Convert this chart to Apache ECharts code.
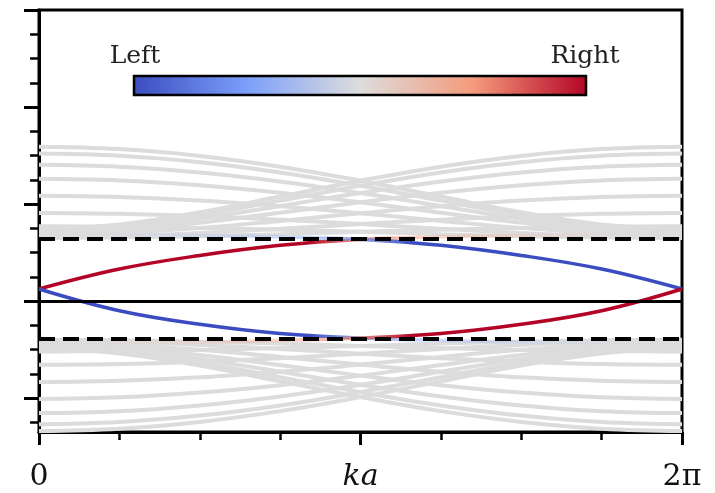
<!DOCTYPE html>
<html>
<head>
<meta charset="utf-8">
<script src="https://cdn.jsdelivr.net/npm/echarts@6/dist/echarts.min.js"></script>
<style>html,body{margin:0;padding:0;background:#fff}#c{width:715px;height:493px}</style>
</head>
<body>
<div id="c"></div>
<script>
// k in units of pi
const kValues = [0, 0.25, 0.5, 0.75, 1, 1.25, 1.5, 1.75, 2];
const xTickLabels = ['0', 'ka', '2π'];
const yMajorTicks = [-1, 0, 1, 2, 3];
const yMinorTicks = [-1.25, -0.75, -0.5, -0.25, 0.25, 0.5, 0.75, 1.25, 1.5, 1.75, 2.25, 2.5, 2.75];
const gapTop = 0.64;
const gapBottom = -0.39;
const legendLabels = ['Left', 'Right'];

// upper bulk bands falling from k=0 toward 2pi
const upperFalling = [
  [1.590, 1.566, 1.496, 1.385, 1.240, 1.077, 0.915, 0.790, 0.740],
  [1.520, 1.497, 1.431, 1.326, 1.189, 1.035, 0.884, 0.766, 0.720],
  [1.405, 1.385, 1.326, 1.233, 1.113, 0.979, 0.848, 0.748, 0.710],
  [1.260, 1.243, 1.194, 1.117, 1.019, 0.910, 0.807, 0.729, 0.700],
  [1.085, 1.072, 1.036, 0.978, 0.905, 0.826, 0.753, 0.700, 0.680],
  [0.907, 0.899, 0.875, 0.839, 0.793, 0.745, 0.702, 0.671, 0.660],
  [0.770, 0.766, 0.754, 0.735, 0.713, 0.689, 0.669, 0.655, 0.650]
];
// upper bulk bands rising toward 2pi
const upperRising = [
  [0.740, 0.790, 0.915, 1.077, 1.240, 1.385, 1.496, 1.566, 1.590],
  [0.720, 0.766, 0.884, 1.035, 1.189, 1.326, 1.431, 1.497, 1.520],
  [0.710, 0.748, 0.848, 0.979, 1.113, 1.233, 1.326, 1.385, 1.405],
  [0.700, 0.729, 0.807, 0.910, 1.019, 1.117, 1.194, 1.243, 1.260],
  [0.680, 0.700, 0.753, 0.826, 0.905, 0.978, 1.036, 1.072, 1.085],
  [0.660, 0.671, 0.702, 0.745, 0.793, 0.839, 0.875, 0.899, 0.907],
  [0.650, 0.655, 0.669, 0.689, 0.713, 0.735, 0.754, 0.766, 0.770]
];
// lower bulk bands rising toward 2pi
const lowerRising = [
  [-1.340, -1.316, -1.246, -1.135, -0.990, -0.827, -0.665, -0.540, -0.490],
  [-1.270, -1.247, -1.181, -1.076, -0.939, -0.785, -0.634, -0.516, -0.470],
  [-1.155, -1.135, -1.076, -0.983, -0.863, -0.729, -0.598, -0.498, -0.460],
  [-1.010, -0.993, -0.944, -0.867, -0.769, -0.660, -0.557, -0.479, -0.450],
  [-0.835, -0.822, -0.786, -0.728, -0.655, -0.576, -0.503, -0.450, -0.430],
  [-0.657, -0.649, -0.625, -0.589, -0.543, -0.495, -0.452, -0.421, -0.410],
  [-0.520, -0.516, -0.504, -0.485, -0.463, -0.439, -0.419, -0.405, -0.400]
];
// lower bulk bands falling toward 2pi
const lowerFalling = [
  [-0.490, -0.540, -0.665, -0.827, -0.990, -1.135, -1.246, -1.316, -1.340],
  [-0.470, -0.516, -0.634, -0.785, -0.939, -1.076, -1.181, -1.247, -1.270],
  [-0.460, -0.498, -0.598, -0.729, -0.863, -0.983, -1.076, -1.135, -1.155],
  [-0.450, -0.479, -0.557, -0.660, -0.769, -0.867, -0.944, -0.993, -1.010],
  [-0.430, -0.450, -0.503, -0.576, -0.655, -0.728, -0.786, -0.822, -0.835],
  [-0.410, -0.421, -0.452, -0.495, -0.543, -0.589, -0.625, -0.649, -0.657],
  [-0.400, -0.405, -0.419, -0.439, -0.463, -0.485, -0.504, -0.516, -0.520]
];
// edge states
const edgeRedUpper  = [0.124, 0.330, 0.470, 0.575, 0.635, 0.660, 0.675, 0.685, 0.690];
const edgeBlueUpper = [0.690, 0.685, 0.675, 0.660, 0.635, 0.575, 0.470, 0.330, 0.124];
const edgeBlueLower = [0.124, -0.100, -0.240, -0.335, -0.380, -0.405, -0.420, -0.430, -0.435];
const edgeRedLower  = [-0.435, -0.430, -0.420, -0.405, -0.380, -0.335, -0.240, -0.100, 0.124];

const RED = '#b40426', BLUE = '#3b4cc0';
const pts = arr => arr.map((v, i) => [kValues[i], v]);
const grad = stops => ({type: 'linear', x: 0, y: 0, x2: 1, y2: 0,
  colorStops: stops.map(s => ({offset: s[0], color: s[1]}))});

const series = [];
[upperFalling, upperRising, lowerRising, lowerFalling].forEach(group => {
  group.forEach(arr => series.push({
    type: 'line', data: pts(arr), smooth: 0.4, showSymbol: false, silent: true, z: 1,
    lineStyle: {color: '#dcdcdc', width: 4}
  }));
});
const redFadeRight = [[0, RED], [0.42, RED], [0.5, 'rgba(225,110,95,0.75)'], [0.6, 'rgba(244,165,135,0.5)'], [0.8, 'rgba(240,200,185,0.3)'], [1, 'rgba(220,220,220,0)']];
const redFadeLeft = [[0, 'rgba(220,220,220,0)'], [0.2, 'rgba(240,200,185,0.3)'], [0.4, 'rgba(244,165,135,0.5)'], [0.5, 'rgba(225,110,95,0.75)'], [0.58, RED], [1, RED]];
const blueFadeRight = [[0, BLUE], [0.42, BLUE], [0.5, 'rgba(110,140,230,0.75)'], [0.6, 'rgba(150,180,245,0.5)'], [0.8, 'rgba(190,205,240,0.3)'], [1, 'rgba(220,220,220,0)']];
const blueFadeLeft = [[0, 'rgba(220,220,220,0)'], [0.2, 'rgba(190,205,240,0.3)'], [0.4, 'rgba(150,180,245,0.5)'], [0.5, 'rgba(110,140,230,0.75)'], [0.58, BLUE], [1, BLUE]];
[[edgeRedUpper, redFadeRight], [edgeBlueUpper, blueFadeLeft], [edgeBlueLower, blueFadeRight], [edgeRedLower, redFadeLeft]].forEach(([arr, st]) => {
  series.push({type: 'line', data: pts(arr), smooth: 0.4, showSymbol: false, silent: true, z: 3,
    lineStyle: {color: grad(st), width: 3.5}});
});
series.push({
  type: 'line', data: [], z: 5, silent: true,
  markLine: {
    silent: true, symbol: 'none', label: {show: false},
    data: [
      {yAxis: gapTop, lineStyle: {type: [16, 8], color: '#000', width: 4}},
      {yAxis: gapBottom, lineStyle: {type: [16, 8], color: '#000', width: 4}},
      {yAxis: 0, lineStyle: {type: 'solid', color: '#000', width: 3}}
    ]
  }
});

const chart = echarts.init(document.getElementById('c'), null, {renderer: 'canvas'});
const serif = 'DejaVu Serif';
chart.setOption({
  animation: false,
  backgroundColor: '#fff',
  grid: {left: 39, right: 33, top: 10, bottom: 61, show: true, borderColor: '#000', borderWidth: 3, backgroundColor: 'transparent'},
  xAxis: {
    type: 'value', min: 0, max: 2, interval: 1,
    axisLine: {onZero: false, lineStyle: {color: '#000', width: 3}},
    axisTick: {length: 13, lineStyle: {color: '#000', width: 3}},
    minorTick: {show: true, splitNumber: 4, length: 8, lineStyle: {color: '#000', width: 2.5}},
    splitLine: {show: false},
    axisLabel: {
      margin: 30, color: '#111', fontFamily: serif, fontSize: 30,
      formatter: v => v === 0 ? xTickLabels[0] : (v === 1 ? '{i|' + xTickLabels[1] + '}' : xTickLabels[2]),
      rich: {i: {fontStyle: 'italic', fontFamily: serif, fontSize: 30, color: '#111'}}
    }
  },
  yAxis: [
    {
      type: 'value', min: -1.35, max: 3,
      axisLine: {show: true, onZero: false, lineStyle: {color: '#000', width: 3}},
      axisTick: {show: true, length: 15, customValues: yMajorTicks, lineStyle: {color: '#000', width: 3}},
      axisLabel: {show: false}, splitLine: {show: false}
    },
    {
      type: 'value', min: -1.35, max: 3, position: 'left',
      axisLine: {show: false, onZero: false},
      axisTick: {show: true, length: 9, customValues: yMinorTicks, lineStyle: {color: '#000', width: 2.5}},
      axisLabel: {show: false}, splitLine: {show: false}
    }
  ],
  series: series,
  graphic: [
    {type: 'rect', shape: {x: 134, y: 76, width: 452, height: 19}, z: 10,
      style: {fill: new echarts.graphic.LinearGradient(0, 0, 1, 0, [
        {offset: 0, color: '#3b4cc0'}, {offset: 0.25, color: '#7b9ff9'},
        {offset: 0.5, color: '#dddddd'}, {offset: 0.75, color: '#f49a7b'}, {offset: 1, color: '#b40426'}]),
        stroke: '#000', lineWidth: 2.5}},
    {type: 'text', x: 135, y: 56, z: 10, style: {text: legendLabels[0], fill: '#222', font: '25px "DejaVu Serif"', align: 'center', verticalAlign: 'middle'}},
    {type: 'text', x: 585, y: 56, z: 10, style: {text: legendLabels[1], fill: '#222', font: '25px "DejaVu Serif"', align: 'center', verticalAlign: 'middle'}}
  ]
});
</script>
</body>
</html>
